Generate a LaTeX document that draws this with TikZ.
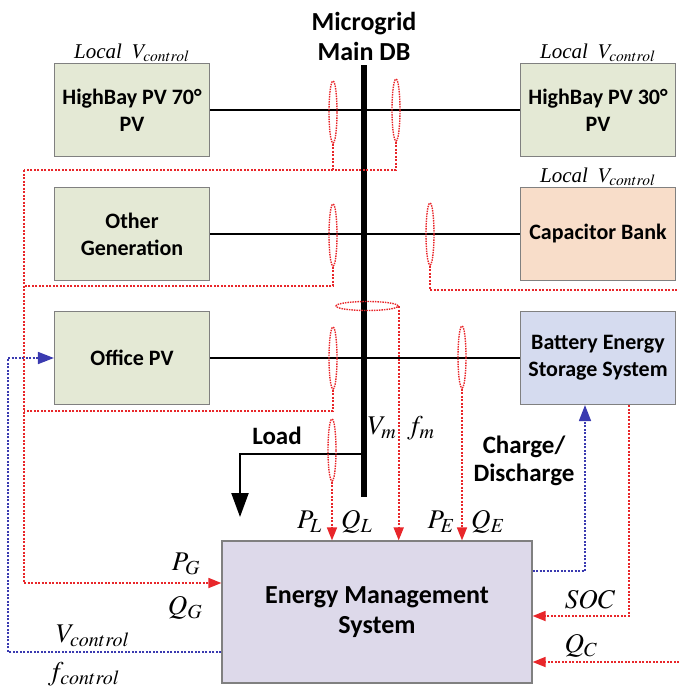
\documentclass[tikz,border=0pt]{standalone}
\usepackage{mathptmx}
\usepackage{fontspec}
\setmainfont{Liberation Serif}
\setsansfont{Carlito}
\usetikzlibrary{arrows.meta,positioning,shapes.geometric}

\definecolor{pvfill}{HTML}{E4E9D5}
\definecolor{capfill}{HTML}{F8DDC9}
\definecolor{bessfill}{HTML}{D5DBEF}
\definecolor{emsfill}{HTML}{DDD9EA}
\definecolor{sensred}{HTML}{E8262A}
\definecolor{ctrlblue}{HTML}{3A3AB0}

\begin{document}
\begin{tikzpicture}[x=1pt, y=-1pt,
  font=\sffamily\bfseries\fontsize{22}{27}\selectfont,
  unit/.style={draw=black!50, fill=pvfill, line width=1.2pt,
    minimum width=155pt, minimum height=93pt, align=center, inner sep=2pt},
  ct/.style={ellipse, draw=sensred, line width=1.4pt, dash pattern=on 1.5pt off 1pt,
    minimum width=8pt, minimum height=62pt, inner sep=0pt},
  sense/.style={draw=sensred, line width=1.7pt, dash pattern=on 2pt off 1.5pt},
  ctrl/.style={draw=ctrlblue, line width=1.7pt, dash pattern=on 2pt off 1.5pt},
  redtip/.style={-{Triangle[length=13pt,width=10pt]}},
  bluetip/.style={-{Triangle[length=16pt,width=12pt]}},
  feeder/.style={line width=2.2pt},
  lbl/.style={font=\rmfamily\fontsize{27}{29}\selectfont, inner sep=0pt},
  local/.style={font=\rmfamily\fontsize{21}{24}\selectfont, inner sep=1pt},
  bigtxt/.style={font=\sffamily\bfseries\fontsize{26}{30}\selectfont, align=center}
]
  \useasboundingbox (0,0) rectangle (679,689);

  % units
  \node[unit] (hb70) at (132,110) {HighBay PV 70°\\PV};
  \node[unit] (hb30) at (598,110) {HighBay PV 30°\\PV};
  \node[unit] (othergen) at (132,234) {Other\\Generation};
  \node[unit, fill=capfill] (capbank) at (598,234) {Capacitor Bank};
  \node[unit] (officepv) at (132,358) {Office PV};
  \node[unit, fill=bessfill] (bess) at (598,358) {Battery Energy\\Storage System};
  \node[unit, fill=emsfill, minimum width=310pt, minimum height=142pt, bigtxt]
    (ems) at (377,612) {Energy Management\\System};

  \node[local, above=0pt of hb70] (hb70ctl) {\textit{Local}~~$V_{control}$};
  \node[local, above=0pt of hb30] (hb30ctl) {\textit{Local}~~$V_{control}$};
  \node[local, above=0pt of capbank] (capctl) {\textit{Local}~~$V_{control}$};

  \node[bigtxt] (mainDB) at (364,36) {Microgrid\\Main DB};

  % feeders and bus
  \draw[feeder] (hb70.east) -- (hb30.west);
  \draw[feeder] (othergen.east) -- (capbank.west);
  \draw[feeder] (officepv.east) -- (bess.west);
  \coordinate (busTop) at (364,65);
  \coordinate (busBot) at (364,497);
  \coordinate (loadTap) at (364,454);
  \coordinate (loadOut) at (240,517);
  \draw[feeder, -{Triangle[length=24pt,width=17pt]}] (loadTap) -| (loadOut);
  \draw[line width=5.5pt] (busTop) -- (busBot);
  \node[bigtxt, font=\sffamily\bfseries\fontsize{25}{28}\selectfont] (loadLbl) at (277,436) {Load};

  % sensors
  \node[ct] (ct1L) at (333,112) {};
  \node[ct] (ct1R) at (396,110) {};
  \node[ct] (ct2L) at (333,235) {};
  \node[ct] (ct2R) at (430,234) {};
  \node[ct] (ct3L) at (333,358) {};
  \node[ct] (ct3R) at (462,357) {};
  \node[ct] (ctLoad) at (332,450) {};
  \node[ct, minimum width=62pt, minimum height=9pt] (ctBus) at (367,306) {};

  % measurement lines
  \coordinate (senseTop) at (24,170);
  \coordinate (senseMid) at (24,286);
  \coordinate (senseLow) at (24,411);
  \coordinate (capOut) at (679,290);
  \coordinate (qcIn) at (679,662);
  \draw[sense] (ct1L.south) -- (ct1L.south |- senseTop);
  \draw[sense] (ct1R.south) |- (senseTop);
  \draw[sense] (ct2L.south) |- (senseMid);
  \draw[sense] (ct3L.south) |- (senseLow);
  \draw[sense, redtip] (senseTop) |- ([yshift=29pt]ems.west);
  \draw[sense] (ct2R.south) |- (capOut);
  \draw[sense, redtip] (ctLoad.south) -- (ctLoad.south |- ems.north);
  \draw[sense, redtip] (ctBus.east) -- (ctBus.east |- ems.north);
  \draw[sense, redtip] (ct3R.south) -- (ct3R.south |- ems.north);
  \draw[sense, redtip] ([xshift=31pt]bess.south) |- ([yshift=-4pt]ems.east);
  \draw[sense, redtip] (qcIn) -- (qcIn -| ems.east);

  % control lines
  \coordinate (ctrlLeft) at (8,500);
  \draw[ctrl, bluetip] ([yshift=41pt]ems.east) -| ([xshift=-13pt]bess.south);
  \draw[ctrl, bluetip] ([yshift=-40pt]ems.west) -| (ctrlLeft) |- (officepv.west);

  % labels
  \node[lbl, anchor=east] (pl) at (322,522) {$P_L$};
  \node[lbl, anchor=west] (ql) at (341,522) {$Q_L$};
  \node[lbl] (vm) at (382,428) {$V_m$};
  \node[lbl] (fm) at (421,428) {$f_m$};
  \node[lbl, anchor=east] (pe) at (455,522) {$P_E$};
  \node[lbl, anchor=west] (qe) at (471,522) {$Q_E$};
  \node[lbl] (pg) at (186,564) {$P_G$};
  \node[lbl] (qg) at (185,608) {$Q_G$};
  \node[lbl] (vctl) at (93,636) {$V_{control}$};
  \node[lbl] (fctl) at (84,674) {$f_{control}$};
  \node[lbl] (soc) at (590,600) {$SOC$};
  \node[lbl] (qc) at (581,646) {$Q_C$};
  \node[bigtxt, font=\sffamily\bfseries\fontsize{25}{28}\selectfont] (chg) at (524,461) {Charge/\\Discharge};
\end{tikzpicture}
\end{document}
